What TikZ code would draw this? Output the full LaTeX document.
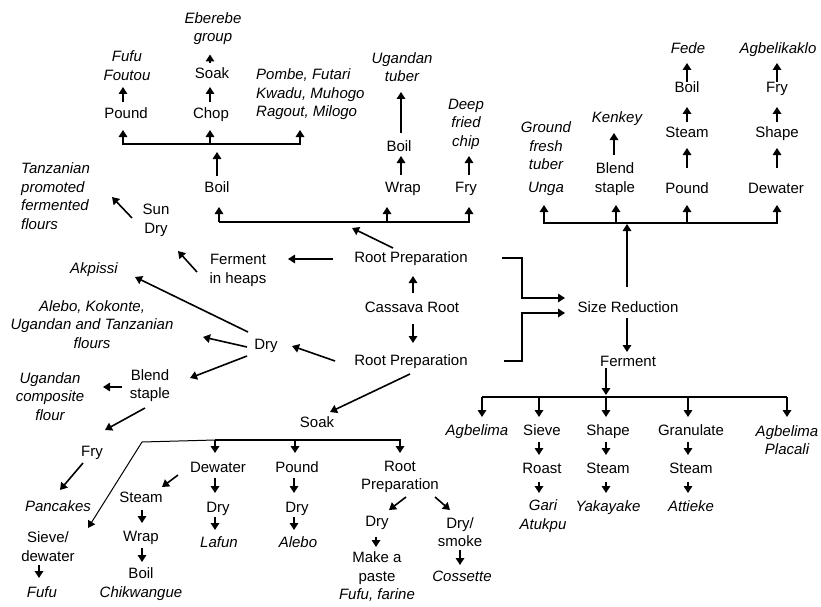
\documentclass[tikz,border=0pt]{standalone}
\usepackage{fontspec}
\setmainfont{Liberation Sans}
\usetikzlibrary{arrows.meta}
\newcommand\dfont{\fontsize{15}{18.5}\selectfont}
\newcommand\conn[5][arr]{\draw[#1] ([shift={(#3)}]#2.center) -- ([shift={(#5)}]#4.center);}
\begin{document}
\begin{tikzpicture}[x=1pt,y=-1pt,
  tx/.style={inner sep=0pt, font=\dfont, text height=11pt, text depth=3pt},
  txi/.style={tx, font=\dfont\itshape},
  ml/.style={inner sep=0pt, font=\dfont, align=center},
  mli/.style={ml, font=\dfont\itshape},
  arr/.style={line width=1.6pt, -{Triangle[length=7pt,width=8.5pt]}},
  thinarr/.style={line width=1pt, -{Triangle[length=7pt,width=8pt]}},
  ln/.style={line width=1.6pt}]
\fill[white] (0,0) rectangle (821,607);
\useasboundingbox (0,0) rectangle (821,607);

% ---- top left
\node[mli] (eberebe) at (213,28.5) {Eberebe\\group};
\node[mli] (fufuA) at (127,65.5) {Fufu\\Foutou};
\node[tx] (soakA) at (212,75) {Soak};
\node[mli, align=left, anchor=west] (pombe) at (256,94.5) {Pombe, Futari\\Kwadu, Muhogo\\Ragout, Milogo};
\node[tx] (poundA) at (126,115) {Pound};
\node[tx] (chopA) at (211,115) {Chop};
\node[tx] (boilA) at (217,188) {Boil};
\node[mli] (ugtuber) at (402,67) {Ugandan\\tuber};
\node[tx] (boilB) at (399,147) {Boil};
\node[tx] (wrapA) at (403,188) {Wrap};
\node[mli] (deep) at (466,124) {Deep\\fried\\chip};
\node[tx] (fryA) at (466,188) {Fry};
\node[tx] (rootT) at (411,258) {Root Preparation};
\node[ml] (fermentH) at (238,270.5) {Ferment\\in heaps};
\node[ml] (sundry) at (156,220.5) {Sun\\Dry};
\node[mli, align=left, anchor=west] (tanz) at (21,196) {Tanzanian\\promoted\\fermented\\flours};
\node[txi] (akpissi) at (94,269) {Akpissi};
\node[mli] (alebo) at (92,324.5) {Alebo, Kokonte,\\Ugandan and Tanzanian\\flours};
\node[tx] (dryL) at (266,345) {Dry};
\node[tx] (cassava) at (412,308) {Cassava Root};
\node[tx] (rootB) at (411,361) {Root Preparation};
\node[ml] (blendL) at (150,385.5) {Blend\\staple};
\node[mli] (ugcomp) at (50,396.5) {Ugandan\\composite\\flour};
\node[tx] (fryL) at (92,452) {Fry};
\node[txi] (pancakes) at (58,507) {Pancakes};
\node[ml] (sieveL) at (48,546.5) {Sieve/\\dewater};
\node[txi] (fufuL) at (42,593) {Fufu};
\node[tx] (soakB) at (317,423) {Soak};
\node[tx] (dewaterB) at (218,468) {Dewater};
\node[tx] (dryB1) at (218,508) {Dry};
\node[txi] (lafun) at (219,543) {Lafun};
\node[tx] (steamB) at (141,498) {Steam};
\node[tx] (wrapB) at (141,537) {Wrap};
\node[ml] (boilC) at (141,584) {Boil\\\textit{Chikwangue}};
\node[tx] (poundB) at (297,468) {Pound};
\node[tx] (dryB2) at (297,508) {Dry};
\node[txi] (aleboB) at (298,543) {Alebo};
\node[ml] (rootC) at (400,477) {Root\\Preparation};
\node[tx] (dryC) at (377,522) {Dry};
\node[ml] (paste) at (377,577) {Make a\\paste\\\textit{Fufu, farine}};
\node[ml] (drysmoke) at (460,532) {Dry/\\smoke};
\node[txi] (cossette) at (462,577) {Cossette};

% ---- right
\node[tx] (sizered) at (628,308) {Size Reduction};
\node[tx] (fermentR) at (628,362) {Ferment};
\node[txi] (agbelima) at (477,431) {Agbelima};
\node[tx] (sieveR) at (542,431) {Sieve};
\node[tx] (shapeR) at (608,431) {Shape};
\node[tx] (granulate) at (691,431) {Granulate};
\node[mli] (agbplac) at (787,440) {Agbelima\\Placali};
\node[tx] (roast) at (542,469) {Roast};
\node[mli] (gari) at (543,516) {Gari\\Atukpu};
\node[tx] (steamR1) at (608,469) {Steam};
\node[txi] (yakayake) at (608,507) {Yakayake};
\node[tx] (steamR2) at (691,469) {Steam};
\node[txi] (attieke) at (691,507) {Attieke};
\node[mli] (ground) at (546,158.5) {Ground\\fresh\\tuber\\[4pt]Unga};
\node[ml] (blendR) at (615,179) {Blend\\staple};
\node[txi] (kenkey) at (617,118) {Kenkey};
\node[tx] (poundR) at (687,189) {Pound};
\node[tx] (steamR) at (687,133) {Steam};
\node[tx] (boilR) at (687,89) {Boil};
\node[txi] (fede) at (688,50) {Fede};
\node[tx] (dewaterR) at (776,189) {Dewater};
\node[tx] (shapeR2) at (777,133) {Shape};
\node[tx] (fryR) at (777,89) {Fry};
\node[txi] (agbelikaklo) at (778,50) {Agbelikaklo};

% ---- connectors top left
\conn{poundA}{-3,-13}{fufuA}{-4,21.5}
\conn{chopA}{-1,-13}{soakA}{-2,12}
\conn{soakA}{-2,-12}{eberebe}{-3,26}
\draw[arr] ([shift={(-1,29)}]chopA.center) -- ([shift={(-1,15)}]chopA.center);
\draw[arr] ([shift={(-1,29)}]chopA.center) -| ([shift={(-3,15)}]poundA.center);
\draw[arr] ([shift={(-1,29)}]chopA.center) -| ([shift={(44,35.5)}]pombe.west);
\conn{boilA}{0,-12}{chopA}{6,37}
\draw[arr] ([shift={(2,34)}]boilA.center) -- ([shift={(2,19)}]boilA.center);
\draw[arr] ([shift={(2,34)}]boilA.center) -| ([shift={(-16,19)}]wrapA.center);
\draw[arr] ([shift={(2,34)}]boilA.center) -| ([shift={(3,19)}]fryA.center);
\conn{rootT}{-18,-10}{wrapA}{-51,40}
\conn{wrapA}{-2,-13}{boilB}{2,9}
\conn{fryA}{3,-13}{deep}{3,32}
\conn{boilB}{2,-14}{ugtuber}{-1,25}
\conn{rootT}{-78,1}{fermentH}{50,-11.5}
\conn{fermentH}{-41,1.5}{sundry}{22,30.5}
\draw[arr] ([shift={(-24,-2.5)}]sundry.center) -- ([shift={(91,1)}]tanz.west);
\conn{cassava}{1,-15}{rootT}{2,18}
\conn{cassava}{1,16}{rootB}{2,-18}
\conn{rootB}{-76,0}{dryL}{26,1}
\conn{dryL}{-18,-13}{akpissi}{41,8}
\conn{dryL}{-19,2}{alebo}{111,12.5}
\conn{dryL}{-19,11}{blendL}{40,-7.5}
\conn{blendL}{-28,1.5}{ugcomp}{53,-9.5}
\conn{blendL}{-5,22.5}{fryL}{13,-22}
\conn{fryL}{-9,11}{pancakes}{2,-17}
\conn{rootB}{-1,13}{soakB}{13,-11}

% ---- soak bus
\draw[arr] ([shift={(-3,-28)}]dewaterB.center) -- ([shift={(-3,-15)}]dewaterB.center);
\draw[arr] ([shift={(-3,-28)}]dewaterB.center) -| ([shift={(-2,-15)}]poundB.center);
\draw[arr] ([shift={(-3,-28)}]dewaterB.center) -| ([shift={(0,-24)}]rootC.center);
\draw[thinarr] ([shift={(-3,-28)}]dewaterB.center) -- ([shift={(-76,-26)}]dewaterB.center) -- ([shift={(40,-18.5)}]sieveL.center);
\conn{dewaterB}{-40,7}{steamB}{21,-11}
\conn{dewaterB}{-3,10}{dryB1}{-3,-15}
\conn{dryB1}{-3,9}{lafun}{-4,-13}
\conn{steamB}{1,12}{wrapB}{1,-14}
\conn{wrapB}{1,11}{boilC}{1,-22}
\conn{poundB}{-3,10}{dryB2}{-3,-15}
\conn{dryB2}{-3,9}{aleboB}{-4,-13}
\conn{sieveL}{-9,18.5}{fufuL}{-3,-15}
\conn{rootC}{6,20}{dryC}{12,-12}
\conn{rootC}{35,20}{drysmoke}{-10,-22}
\conn{dryC}{-1,15}{paste}{-1,-30}
\conn{drysmoke}{0,18}{cossette}{-2,-12}

% ---- right side
\draw[arr] ([shift={(91,0)}]rootT.center) -| ([shift={(-106,-10)}]sizered.center) -- ([shift={(-63,-10)}]sizered.center);
\draw[arr] ([shift={(93,0)}]rootB.center) -| ([shift={(-106,5)}]sizered.center) -- ([shift={(-63,5)}]sizered.center);
\conn{sizered}{-1,-21}{sizered}{-1,-84}
\draw[arr] ([shift={(-1,-85)}]sizered.center) -| ([shift={(-2,46.5)}]ground.center);
\draw[arr] ([shift={(-1,-85)}]sizered.center) -| ([shift={(1,26)}]blendR.center);
\draw[arr] ([shift={(-1,-85)}]sizered.center) -| ([shift={(0,16)}]poundR.center);
\draw[arr] ([shift={(-1,-85)}]sizered.center) -| ([shift={(1,16)}]dewaterR.center);
\conn{blendR}{-1,-24}{kenkey}{-3,15}
\conn{poundR}{0,-21}{steamR}{0,15}
\conn{steamR}{0,-11}{boilR}{0,18}
\conn{boilR}{0,-7}{fede}{-1,13}
\conn{dewaterR}{1,-21}{shapeR2}{0,15}
\conn{shapeR2}{0,-11}{fryR}{0,18}
\conn{fryR}{0,-7}{agbelikaklo}{-1,13}
\conn{sizered}{-1,10}{fermentR}{-1,-10}
\conn{fermentR}{-22,6}{fermentR}{-22,33}
\draw[ln] ([shift={(5,-34)}]agbelima.center) -- ([shift={(0,-43)}]agbplac.center);
\conn{agbelima}{5,-34}{agbelima}{5,-14}
\conn{sieveR}{-3,-34}{sieveR}{-3,-14}
\conn{shapeR}{-2,-34}{shapeR}{-2,-14}
\conn{granulate}{-3,-34}{granulate}{-3,-14}
\conn{agbplac}{0,-43}{agbplac}{0,-23}
\conn{sieveR}{-3,11}{roast}{-3,-14}
\conn{roast}{-3,13}{gari}{-4,-23}
\conn{shapeR}{-2,11}{steamR1}{-2,-14}
\conn{steamR1}{-2,13}{yakayake}{-2,-14}
\conn{granulate}{-3,11}{steamR2}{-3,-14}
\conn{steamR2}{-3,13}{attieke}{-3,-14}
\end{tikzpicture}
\end{document}
